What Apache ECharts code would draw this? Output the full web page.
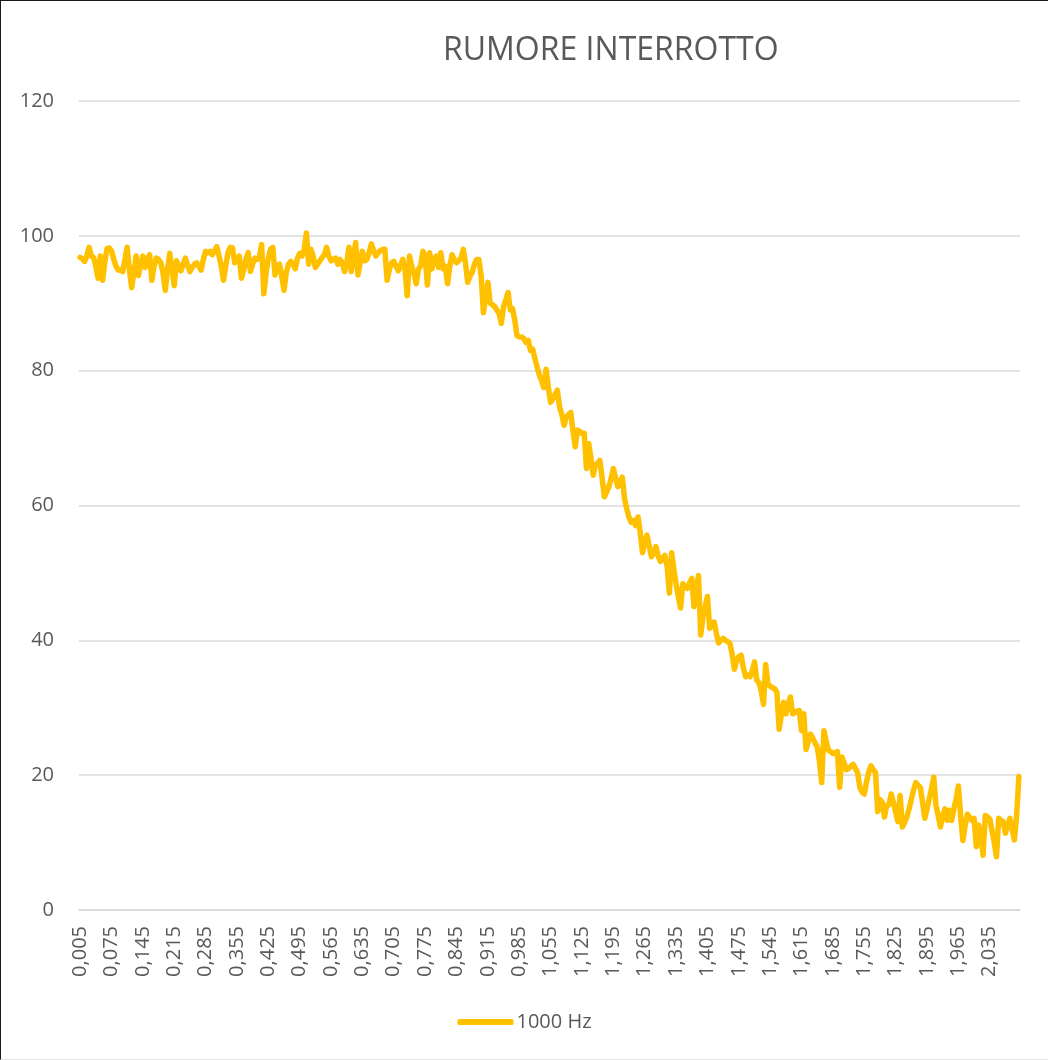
<!DOCTYPE html>
<html>
<head>
<meta charset="utf-8">
<title>RUMORE INTERROTTO</title>
<script src="https://cdn.jsdelivr.net/npm/echarts@6/dist/echarts.min.js"></script>
<style>
  html, body { margin: 0; padding: 0; background: #fff; }
  #frame {
    width: 1048px; height: 1060px; box-sizing: border-box;
    border-left: 1px solid #1a1a1a; border-top: 1px solid #1a1a1a;
    border-bottom: 1px solid #e3e3e3;
  }
  #chart { width: 100%; height: 100%; }
</style>
</head>
<body>
<div id="frame"><div id="chart"></div></div>
<script>
// Time axis: samples every 0,005 s starting at 0,005
const timeStart = 0.005;
const timeStep = 0.005;
const sampleCount = 420;
const categories = [];
for (let k = 0; k < sampleCount; k++) {
  categories.push((timeStart + k * timeStep).toFixed(3).replace('.', ','));
}

// Level of the interrupted noise, 1000 Hz band
const level1000Hz = [
  96.8, 96.6, 96.2, 97, 98.3, 97, 96.8, 95.5, 93.7, 97, 93.4, 96, 98.1, 98.2, 97.8, 96.5, 95.5, 94.9, 95, 94.7,
  96.5, 98.3, 95, 92.3, 94.5, 97, 94.1, 95.8, 97, 95.3, 96.5, 97.2, 93.4, 95.5, 96.7, 96.5, 96, 94.5, 91.9, 95,
  97.4, 95, 92.6, 96.3, 95.5, 94.8, 95.8, 96.7, 95.6, 94.7, 95.3, 95.8, 96, 95.5, 94.9, 96.5, 97.7, 97.5, 97.7, 97.2,
  97.8, 98.4, 97, 95.5, 93.4, 95.5, 97.5, 98.3, 98.2, 96, 96.5, 97, 93.7, 95, 96.5, 97.5, 94.7, 95.8, 96.7, 96.5,
  96.8, 98.7, 91.4, 94.5, 96.7, 98, 98.3, 94.2, 95.5, 95.8, 94, 91.9, 94.5, 95.8, 96.2, 95.8, 95.1, 96.7, 97.4, 97,
  98, 100.4, 95.8, 98, 97, 95.3, 95.8, 96.3, 96.8, 97.2, 98.3, 97, 96.3, 96.5, 96.7, 95.8, 96.5, 96, 94.7, 96,
  98.3, 94.7, 97, 99, 94.2, 96, 97.7, 96.3, 96.5, 97.5, 98.8, 97.8, 97, 97.5, 97.8, 98, 98, 93.4, 95, 96,
  96.2, 95.5, 94.8, 95.6, 96.5, 95, 91.1, 97, 95.5, 94.5, 92.9, 95, 95.6, 97.7, 97, 92.7, 97.5, 95.1, 96.5, 97,
  95.3, 97.5, 95.1, 95.5, 92.9, 95.5, 97.2, 96.5, 96, 96.3, 96.7, 98, 96, 93.1, 94, 94.6, 95.8, 96.5, 96.5, 94,
  88.6, 91, 93.1, 90, 89.8, 89.5, 89, 88.5, 87, 89.5, 90.5, 91.6, 89, 89.2, 87.5, 85.2, 85, 85, 84.8, 84.2,
  84.5, 83, 83.2, 81.8, 80.5, 79.3, 78.5, 77.5, 80.2, 77.5, 75.3, 75.8, 76.5, 77.1, 74.6, 73.5, 71.9, 73.1, 73.5, 73.8,
  71, 68.7, 71.2, 71, 70.7, 70.7, 65.5, 69.2, 67, 64.5, 66, 66.3, 66.7, 64, 61.3, 62, 62.8, 64, 65.5, 64,
  62.8, 63.5, 64.2, 61, 59.5, 58.2, 57.5, 57.8, 57, 58.3, 56, 53, 54.5, 55.6, 54, 52.4, 53, 53.9, 52.5, 51.7,
  52.2, 52.6, 51, 47, 53, 50.5, 48.4, 46.5, 44.8, 48.4, 48, 47.7, 48.5, 49.2, 45, 47.5, 49.6, 40.8, 43.5, 45,
  46.5, 41.8, 42.5, 42.7, 41, 39.6, 40, 40.3, 40, 39.8, 39.6, 38, 35.7, 37, 37.6, 37.8, 36, 34.6, 34.8, 34.6,
  35.5, 36.8, 34.1, 33.7, 32.5, 30.5, 36.4, 33.5, 33.2, 33, 32.8, 32.3, 26.8, 29, 30.8, 29.1, 30.5, 31.6, 29.1, 29.3,
  29.5, 29.6, 26.6, 29.1, 23.8, 25, 26.1, 25.5, 24.8, 24.2, 22, 18.9, 26.6, 25, 23.7, 23.5, 23.2, 23.3, 23.5, 18.2,
  22.7, 21.8, 20.8, 21, 21.3, 21.6, 21, 20.4, 18.2, 17.5, 17.2, 19, 20.5, 21.4, 20.8, 20.4, 14.6, 16.4, 16, 13.8,
  15.5, 15.6, 17.2, 16, 14.5, 13.1, 17, 12.3, 13, 13.8, 15, 16.4, 17.8, 18.9, 18.5, 18.2, 16, 13.6, 15, 16.5,
  18, 19.7, 15.5, 14, 12.3, 14, 15, 13.3, 14.8, 13.3, 15, 16.5, 18.4, 14, 10.3, 12.5, 14.2, 13.8, 13.3, 13.6,
  9.4, 12.6, 11, 8.1, 14, 13.8, 13.5, 11.8, 10, 7.9, 13.6, 13.3, 13.1, 11.4, 12.5, 13.6, 12, 10.4, 14, 19.8
];

const yTicks = { min: 0, max: 120, interval: 20 };
const seriesName = '1000 Hz';
const chartTitle = 'RUMORE INTERROTTO';

const textColor = '#595959';
const font = '"Open Sans", "Liberation Sans", sans-serif';

const chart = echarts.init(document.getElementById('chart'), null, { renderer: 'canvas' });
chart.setOption({
  animation: false,
  backgroundColor: '#ffffff',
  textStyle: { fontFamily: font, color: textColor },
  title: {
    text: chartTitle,
    left: 437,
    top: 29,
    textStyle: { fontFamily: font, fontSize: 32, fontWeight: 'normal', color: textColor }
  },
  legend: {
    data: [seriesName],
    bottom: 22,
    left: 'center',
    icon: 'roundRect',
    itemWidth: 56,
    itemHeight: 6,
    itemGap: 4,
    textStyle: { fontFamily: font, fontSize: 20, color: textColor, padding: [0, 0, 0, -2] }
  },
  grid: { left: 78, right: 28, top: 100, bottom: 149, containLabel: false },
  xAxis: {
    type: 'category',
    data: categories,
    boundaryGap: true,
    axisLine: { show: true, lineStyle: { color: '#d9d9d9', width: 1.5 } },
    axisTick: { show: false },
    axisLabel: {
      interval: 13,
      rotate: 90,
      margin: 16,
      fontFamily: font,
      fontSize: 20,
      color: textColor
    },
    splitLine: { show: false }
  },
  yAxis: {
    type: 'value',
    min: yTicks.min,
    max: yTicks.max,
    interval: yTicks.interval,
    axisLine: { show: false },
    axisTick: { show: false },
    axisLabel: { margin: 25, fontFamily: font, fontSize: 20, color: textColor },
    splitLine: { lineStyle: { color: '#d9d9d9', width: 1.5 } }
  },
  series: [{
    name: seriesName,
    type: 'line',
    data: level1000Hz,
    showSymbol: false,
    symbol: 'none',
    smooth: false,
    color: '#FFC000',
    lineStyle: { color: '#FFC000', width: 5.5, join: 'round', cap: 'round' }
  }]
});
</script>
</body>
</html>
